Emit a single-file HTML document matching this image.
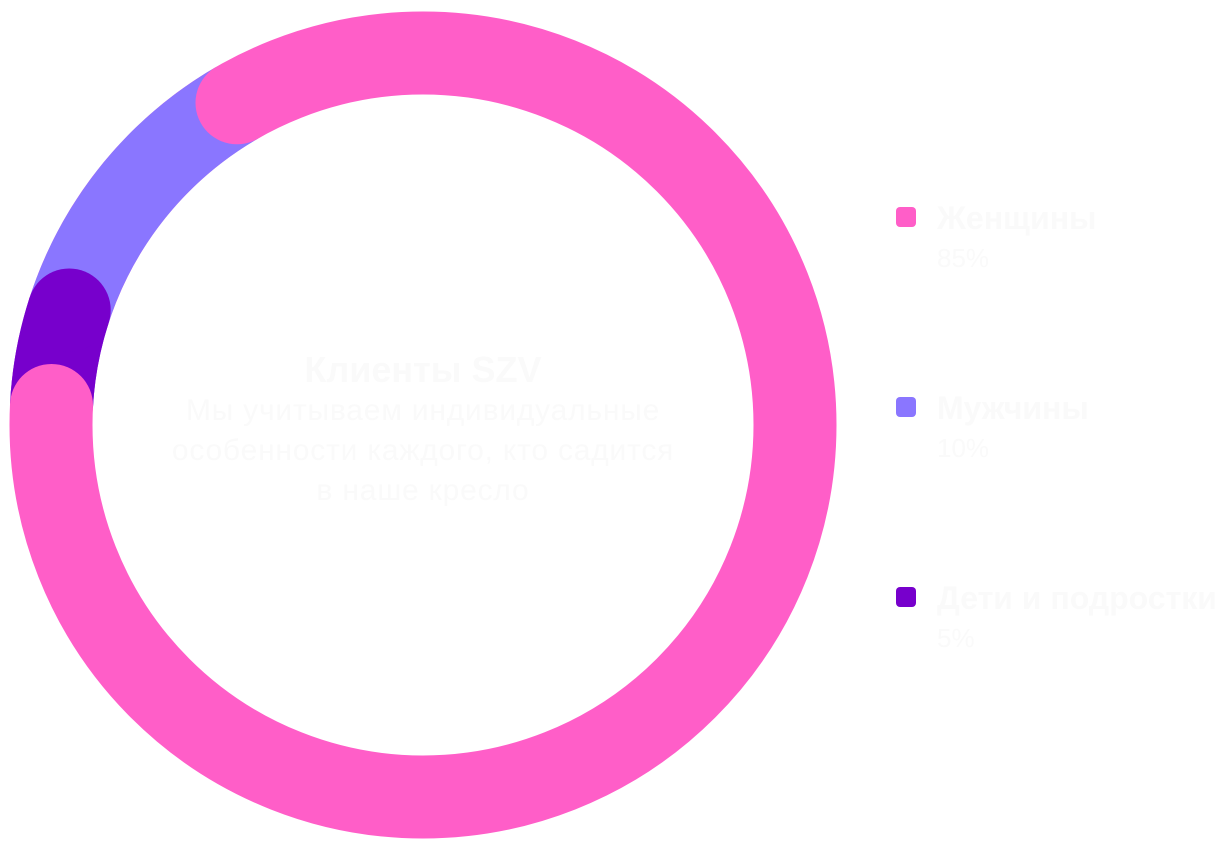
<!DOCTYPE html>
<html><head><meta charset="utf-8"><style>
html,body{margin:0;padding:0;background:#fff;width:1224px;height:851px;overflow:hidden;font-family:"Liberation Sans",sans-serif;}
svg{position:absolute;left:0;top:0}
.t{position:absolute;color:#fafafa;white-space:nowrap}
.c{left:73px;width:700px;text-align:center}
.sq{position:absolute;left:896px;width:20px;height:20px;border-radius:4px}
</style></head><body>
<svg width="1224" height="851">
<circle cx="423" cy="425" r="372" fill="none" stroke="#ff5ec8" stroke-width="83"/>
<path d="M 51.5 405.5 A 372 372 0 0 1 237 102.8" fill="none" stroke="#8a76ff" stroke-width="83"/>
<path d="M 51.5 405.5 A 372 372 0 0 1 69.2 310" fill="none" stroke="#7700cc" stroke-width="83"/>
<circle cx="69.2" cy="310" r="41.5" fill="#7700cc"/>
<circle cx="51.5" cy="405.5" r="41.5" fill="#ff5ec8"/>
<circle cx="237" cy="102.8" r="41.5" fill="#ff5ec8"/>
</svg>
<div class="t c" style="top:349px;font-size:36px;font-weight:bold;line-height:42px">Клиенты SZV</div>
<div class="t c" style="top:391px;font-size:30px;letter-spacing:0.8px;line-height:40px">Мы учитываем индивидуальные<br>особенности каждого, кто садится<br>в наше кресло</div>
<div class="sq" style="top:207px;background:#ff5ec8"></div>
<div class="sq" style="top:397px;background:#8a76ff"></div>
<div class="sq" style="top:587px;background:#7700cc"></div>
<div class="t" style="left:937px;top:199px;font-size:32px;font-weight:bold;line-height:38px">Женщины</div>
<div class="t" style="left:937px;top:243px;font-size:26px;line-height:30px">85%</div>
<div class="t" style="left:937px;top:389px;font-size:32px;font-weight:bold;line-height:38px">Мужчины</div>
<div class="t" style="left:937px;top:433px;font-size:26px;line-height:30px">10%</div>
<div class="t" style="left:937px;top:579px;font-size:32px;font-weight:bold;line-height:38px">Дети и подростки</div>
<div class="t" style="left:937px;top:623px;font-size:26px;line-height:30px">5%</div>
</body></html>
